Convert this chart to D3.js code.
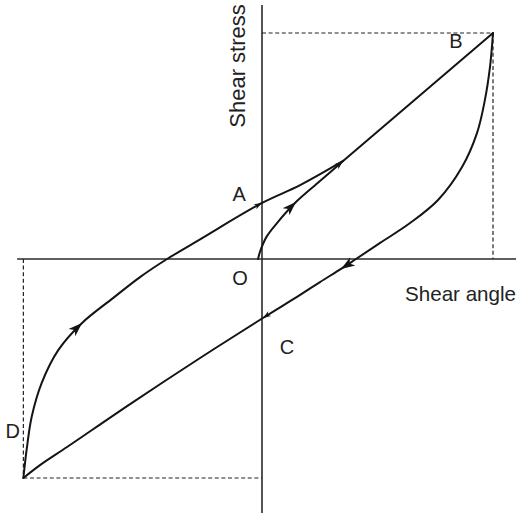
<!DOCTYPE html>
<html>
<head>
<meta charset="utf-8">
<script src="https://cdn.jsdelivr.net/npm/d3@7/dist/d3.min.js"></script>
<style>
  html, body { margin: 0; padding: 0; background: #fff; }
  svg { display: block; }
  text { font-family: "Liberation Sans", Arial, Helvetica, sans-serif; fill: #222; }
</style>
</head>
<body>
<svg id="chart" width="516" height="515"></svg>
<script>
// Shear stress vs. shear angle hysteresis loop (arbitrary units, B = +100 / +100)

// Initial loading from O up to the knee on the upper branch
const initialLoading = [[-1.7, 0], [-0.9, 3.1], [2.0, 9.9], [6.4, 15.8], [14.7, 25.2], [25.1, 34.5], [35.1, 43.4]];
// Straight loading segment from the knee to B
const upperRight = [[35.1, 43.4], [100, 100]];
// Reloading branch from D through A to the knee
const upperBranch = [[-103.3, -96.9], [-101.9, -84.5], [-99.7, -69.8], [-95.4, -54.9], [-88.2, -40.3],
  [-77.9, -28.3], [-64.5, -17.3], [-52.8, -8.0], [-41.1, 0], [-26.8, 8.7], [0, 24.8], [16.5, 32.7], [35.1, 43.4]];
// Unloading branch from B through C to D
const lowerBranch = [[100, 100], [98.7, 85.0], [96.5, 70.4], [93.1, 55.8], [86.6, 40.7], [76.2, 26.1],
  [64.1, 15.9], [51.1, 7.1], [40.7, 0], [34.2, -4.4], [25.1, -10.2], [16.5, -15.9], [0.4, -26.1],
  [-26.8, -43.8], [-57.1, -64.2], [-84.4, -83.2], [-96.1, -91.2], [-103.3, -96.9]];

// Turning points
const pointB = [100, 100];
const pointD = [-103.3, -96.9];

// Axis extents
const xAxisExtent = [-106, 112];
const yAxisExtent = [-112.4, 112.4];

// Point labels: text and data anchor
const pointLabels = ["A", "B", "O", "C", "D"];
const pointLabelPos = [[-9.9, 25.7], [84.0, 93.4], [-9.5, -11.3], [10.8, -42.0], [-107.9, -79.2]];

const axisTitles = ["Shear stress", "Shear angle"];

const svg = d3.select("#chart");

const x = d3.scaleLinear().domain([-100, 100]).range([31, 493]);
const y = d3.scaleLinear().domain([-100, 100]).range([485, 33]);

const ink = "#141414";

// Axes through the origin
svg.append("line")
  .attr("x1", x(0)).attr("x2", x(0))
  .attr("y1", y(yAxisExtent[0])).attr("y2", y(yAxisExtent[1]))
  .attr("stroke", "#2a2a2a").attr("stroke-width", 1.6);
svg.append("line")
  .attr("x1", x(xAxisExtent[0])).attr("x2", x(xAxisExtent[1]))
  .attr("y1", y(0)).attr("y2", y(0))
  .attr("stroke", "#2a2a2a").attr("stroke-width", 1.6);

// Dashed guides to the turning points
const guides = [
  [[0, pointB[1]], pointB],
  [pointB, [pointB[0], 0]],
  [[pointD[0], 0], pointD],
  [pointD, [0, pointD[1]]]
];
svg.append("g").selectAll("line").data(guides).join("line")
  .attr("x1", d => x(d[0][0])).attr("y1", d => y(d[0][1]))
  .attr("x2", d => x(d[1][0])).attr("y2", d => y(d[1][1]))
  .attr("stroke", "#222").attr("stroke-width", 1.2)
  .attr("stroke-dasharray", "4,2.6");

// Curves
const line = d3.line().x(d => x(d[0])).y(d => y(d[1])).curve(d3.curveCatmullRom.alpha(0.5));
const straight = d3.line().x(d => x(d[0])).y(d => y(d[1]));

const curves = svg.append("g").attr("fill", "none").attr("stroke", ink)
  .attr("stroke-width", 2).attr("stroke-linejoin", "round").attr("stroke-linecap", "round");
curves.append("path").attr("d", line(initialLoading));
curves.append("path").attr("d", straight(upperRight));
curves.append("path").attr("d", line(upperBranch));
curves.append("path").attr("d", line(lowerBranch));

// Arrowheads placed on curve vertices, oriented along the local tangent
const arrows = [
  { pts: initialLoading, i: 4, size: 14 },
  { pts: upperRight, i: 0, size: 9 },
  { pts: upperBranch, i: 5, size: 14 },
  { pts: upperBranch, i: 10, size: 8 },
  { pts: lowerBranch, i: 9, size: 14 },
  { pts: lowerBranch, i: 12, size: 8 }
];
function arrowGeom(a) {
  const p = a.pts;
  const prev = p[Math.max(0, a.i - 1)];
  const next = p[Math.min(p.length - 1, a.i + 1)];
  const ang = Math.atan2(y(next[1]) - y(prev[1]), x(next[0]) - x(prev[0])) * 180 / Math.PI;
  return { tx: x(p[a.i][0]), ty: y(p[a.i][1]), ang };
}
svg.append("g").selectAll("path").data(arrows).join("path")
  .attr("d", a => {
    const L = a.size, W = a.size * 0.7;
    return `M0,0 L${-L},${-W / 2} L${-L * 0.72},0 L${-L},${W / 2} Z`;
  })
  .attr("transform", a => {
    const g = arrowGeom(a);
    return `translate(${g.tx},${g.ty}) rotate(${g.ang})`;
  })
  .attr("fill", ink);

// Point labels
svg.append("g").selectAll("text").data(pointLabels).join("text")
  .attr("x", (d, i) => x(pointLabelPos[i][0]))
  .attr("y", (d, i) => y(pointLabelPos[i][1]))
  .attr("text-anchor", "middle")
  .attr("font-size", 20)
  .text(d => d);

// Axis titles
svg.append("text")
  .attr("transform", `translate(${x(0) - 17},${y(85.4)}) rotate(-90)`)
  .attr("text-anchor", "middle")
  .attr("font-size", 22)
  .text(axisTitles[0]);
svg.append("text")
  .attr("x", x(61.9)).attr("y", y(-18.4))
  .attr("font-size", 20.6)
  .text(axisTitles[1]);
</script>
</body>
</html>
